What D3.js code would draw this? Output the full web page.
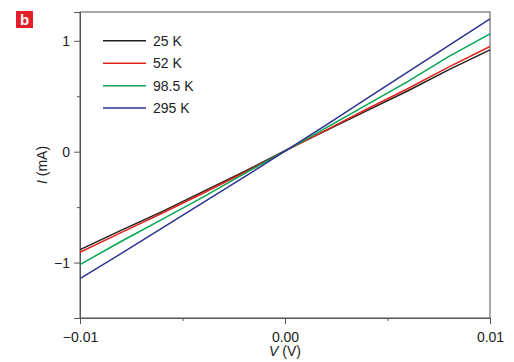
<!DOCTYPE html>
<html>
<head>
<meta charset="utf-8">
<script src="https://cdn.jsdelivr.net/npm/d3@7"></script>
<style>
  body { margin: 0; background: #fff; }
  svg { display: block; }
  text { font-family: "Liberation Sans Narrow", "Arial Narrow", "Liberation Sans", sans-serif; }
</style>
</head>
<body>
<svg width="514" height="362"></svg>
<script>
// ---------------------------------------------
// data: I (mA) against V (V)
// ---------------------------------------------
var voltages = [-0.01, -0.008, -0.006, -0.004, -0.002, 0, 0.002, 0.004, 0.006, 0.008, 0.01];
var seriesNames = ["25 K", "52 K", "98.5 K", "295 K"];
var seriesColors = ["#231f20", "#e2231a", "#00a651", "#2e3192"];
var current25 = [-0.883, -0.71, -0.54, -0.36, -0.18, 0.01, 0.19, 0.37, 0.55, 0.74, 0.919];
var current52 = [-0.907, -0.73, -0.555, -0.375, -0.19, 0.005, 0.195, 0.385, 0.57, 0.765, 0.949];
var current98 = [-1.018, -0.81, -0.61, -0.41, -0.2, 0.005, 0.215, 0.425, 0.635, 0.86, 1.063];
var current295 = [-1.144, -0.92, -0.69, -0.46, -0.23, 0.005, 0.24, 0.48, 0.72, 0.96, 1.198];
var xTicks = [-0.01, 0, 0.01];
var xMinorTicks = [-0.005, 0.005];
var yTicks = [-1, 0, 1];
var yMinorTicks = [-0.5, 0.5];

var allCurrents = [current25, current52, current98, current295];

var svg = d3.select("svg"),
    margin = {top: 12, right: 24, bottom: 44, left: 80},
    width = +svg.attr("width") - margin.left - margin.right,
    height = +svg.attr("height") - margin.top - margin.bottom,
    g = svg.append("g").attr("transform", "translate(" + margin.left + "," + margin.top + ")");

var x = d3.scaleLinear().domain([-0.01, 0.01]).range([0, width]);
var y = d3.scaleLinear().domain([-1.5, 1.26]).range([height, 0]);

var axisColor = "#555";

function fmtX(d) {
    if (d === 0) return "0.00";
    return (d < 0 ? "\u22120.01" : "0.01");
}
function fmtY(d) {
    return d < 0 ? "\u2212" + Math.abs(d) : "" + d;
}

// frame
g.append("rect")
    .attr("x", 0).attr("y", 0)
    .attr("width", width).attr("height", height)
    .attr("fill", "none")
    .attr("stroke", axisColor)
    .attr("stroke-width", 1);

// x axis
var xAxis = g.append("g")
    .attr("transform", "translate(0," + height + ")")
    .call(d3.axisBottom(x).tickValues(xTicks).tickSize(6).tickFormat(fmtX));
g.append("g")
    .attr("transform", "translate(0," + height + ")")
    .call(d3.axisBottom(x).tickValues(xMinorTicks).tickSize(3).tickFormat(""));

// y axis
var yAxis = g.append("g")
    .call(d3.axisLeft(y).tickValues(yTicks).tickSize(6).tickFormat(fmtY));
g.append("g")
    .call(d3.axisLeft(y).tickValues(yMinorTicks).tickSize(3).tickFormat(""));

g.selectAll(".domain").attr("stroke", axisColor);
g.selectAll(".tick line").attr("stroke", axisColor);
g.selectAll(".tick text")
    .attr("fill", "#222")
    .style("font-size", "14px");
xAxis.selectAll(".tick text").attr("dy", "1.05em");
yAxis.selectAll(".tick text").attr("x", -10).attr("dy", "0.35em");

// curves
var line = d3.line()
    .x(function(d, i) { return x(voltages[i]); })
    .y(function(d) { return y(d); });

g.selectAll(".curve")
    .data(allCurrents)
    .enter().append("path")
    .attr("class", "curve")
    .attr("d", line)
    .attr("fill", "none")
    .attr("stroke", function(d, i) { return seriesColors[i]; })
    .attr("stroke-width", 1.5);

// legend
var legend = g.append("g")
    .selectAll("g")
    .data(seriesNames)
    .enter().append("g")
    .attr("transform", function(d, i) { return "translate(23," + (y(1) + i * 22.4) + ")"; });

legend.append("line")
    .attr("x1", 0).attr("x2", 43)
    .attr("stroke", function(d, i) { return seriesColors[i]; })
    .attr("stroke-width", 1.5);

legend.append("text")
    .attr("x", 50)
    .attr("dy", "0.35em")
    .style("font-size", "14px")
    .attr("fill", "#222")
    .text(function(d) { return d; });

// axis titles
var xTitle = svg.append("text")
    .attr("x", margin.left + x(0))
    .attr("y", 356)
    .attr("text-anchor", "middle")
    .style("font-size", "14px")
    .attr("fill", "#222");
xTitle.append("tspan").style("font-style", "italic").text("V");
xTitle.append("tspan").text(" (V)");

var yTitle = svg.append("text")
    .attr("transform", "translate(47," + (margin.top + height / 2) + ") rotate(-90)")
    .attr("text-anchor", "middle")
    .style("font-size", "14px")
    .attr("fill", "#222");
yTitle.append("tspan").style("font-style", "italic").text("I");
yTitle.append("tspan").text(" (mA)");

// panel label
svg.append("rect")
    .attr("x", 16).attr("y", 11)
    .attr("width", 17).attr("height", 17)
    .attr("fill", "#e3202a");
svg.append("text")
    .attr("x", 24.5).attr("y", 25)
    .attr("text-anchor", "middle")
    .style("font-family", "'Liberation Sans', sans-serif")
    .style("font-weight", "bold")
    .style("font-size", "15px")
    .attr("fill", "#fff")
    .text("b");
</script>
</body>
</html>
